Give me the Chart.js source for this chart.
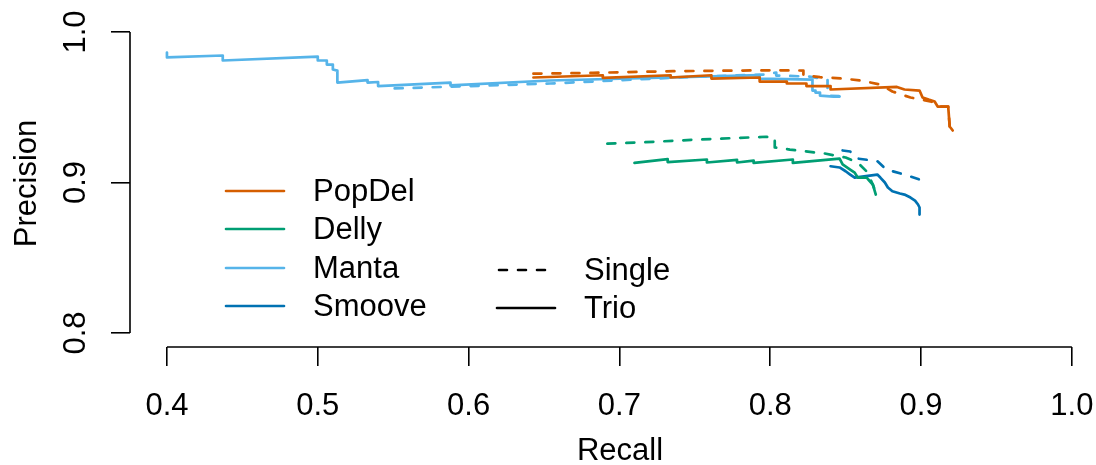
<!DOCTYPE html>
<html>
<head>
<meta charset="utf-8">
<script src="https://cdn.jsdelivr.net/npm/chart.js@4/dist/chart.umd.min.js"></script>
<style>
  body { margin: 0; background: #fff; }
  #wrap { width: 1096px; height: 465px; }
</style>
</head>
<body>
<div id="wrap"><canvas id="prCanvas"></canvas></div>
<script>
// precision / recall curves, trio vs single calling
var xTicks = [0.4, 0.5, 0.6, 0.7, 0.8, 0.9, 1.0];
var yTicks = [0.8, 0.9, 1.0];

var popdelTrioRecall = [0.643, 0.689, 0.689, 0.734, 0.734, 0.761, 0.761, 0.793, 0.793, 0.811, 0.811, 0.824, 0.824, 0.840, 0.840, 0.884, 0.889, 0.899, 0.901, 0.905, 0.909, 0.911, 0.918, 0.919, 0.921];
var popdelTrioPrec   = [0.9698, 0.9713, 0.9696, 0.9713, 0.9698, 0.9713, 0.9691, 0.9698, 0.9671, 0.9671, 0.9658, 0.9658, 0.9641, 0.9641, 0.9618, 0.9635, 0.9618, 0.9611, 0.9565, 0.9551, 0.9538, 0.9505, 0.9505, 0.9372, 0.9346];
var popdelSingleRecall = [0.643, 0.6825, 0.7355, 0.802, 0.822, 0.822, 0.833, 0.848, 0.860, 0.873, 0.881, 0.893, 0.907, 0.911, 0.918, 0.919, 0.921];
var popdelSinglePrec   = [0.9723, 0.9729, 0.974, 0.9746, 0.9744, 0.9713, 0.970, 0.9691, 0.9678, 0.9651, 0.9605, 0.9565, 0.9538, 0.9505, 0.9505, 0.9372, 0.9346];

var dellyTrioRecall = [0.710, 0.732, 0.732, 0.758, 0.758, 0.778, 0.778, 0.789, 0.789, 0.815, 0.815, 0.846, 0.848, 0.853, 0.856, 0.858, 0.864, 0.865, 0.868, 0.870];
var dellyTrioPrec   = [0.913, 0.9156, 0.9136, 0.9153, 0.9133, 0.915, 0.9133, 0.9146, 0.913, 0.9153, 0.913, 0.9159, 0.912, 0.9086, 0.9066, 0.9033, 0.9033, 0.902, 0.8987, 0.892];
var dellySingleRecall = [0.692, 0.717, 0.753, 0.797, 0.803, 0.803, 0.813, 0.836, 0.850, 0.858, 0.864, 0.868, 0.870];
var dellySinglePrec   = [0.9258, 0.9268, 0.9286, 0.9304, 0.9299, 0.9233, 0.9219, 0.9193, 0.9166, 0.9133, 0.9073, 0.8987, 0.8933];

var mantaTrioRecall = [0.400, 0.400, 0.437, 0.437, 0.500, 0.500, 0.506, 0.506, 0.510, 0.510, 0.513, 0.513, 0.533, 0.533, 0.540, 0.540, 0.588, 0.588, 0.654, 0.793, 0.793, 0.828, 0.828, 0.830, 0.830, 0.833, 0.833, 0.842, 0.846];
var mantaTrioPrec   = [0.9864, 0.9831, 0.9844, 0.9811, 0.9837, 0.9811, 0.9811, 0.9784, 0.9784, 0.9751, 0.9744, 0.9664, 0.9681, 0.9664, 0.9668, 0.9641, 0.9664, 0.9645, 0.9678, 0.9714, 0.9691, 0.9684, 0.9611, 0.9611, 0.9598, 0.9598, 0.9578, 0.9571, 0.9571];
var mantaSingleRecall = [0.551, 0.654, 0.753, 0.797, 0.804, 0.804, 0.826, 0.838, 0.838, 0.850];
var mantaSinglePrec   = [0.9625, 0.9658, 0.9704, 0.9718, 0.9731, 0.9711, 0.9704, 0.9684, 0.9578, 0.9571];

var smooveTrioRecall = [0.840, 0.846, 0.850, 0.853, 0.856, 0.871, 0.873, 0.876, 0.878, 0.881, 0.886, 0.889, 0.893, 0.896, 0.898, 0.899, 0.899];
var smooveTrioPrec   = [0.9108, 0.910, 0.9075, 0.9053, 0.9032, 0.9053, 0.9033, 0.900, 0.8967, 0.8942, 0.8927, 0.892, 0.890, 0.888, 0.8854, 0.8834, 0.8787];
var smooveSingleRecall = [0.848, 0.853, 0.858, 0.871, 0.877, 0.889, 0.899, 0.899];
var smooveSinglePrec   = [0.9213, 0.9206, 0.9159, 0.9142, 0.9086, 0.9053, 0.902, 0.8987];

var tools = ["PopDel", "Delly", "Manta", "Smoove"];
var toolColors = ["#D55E00", "#009E73", "#56B4E9", "#0072B2"];

var FONT = "'Liberation Sans', Arial, Helvetica, sans-serif";
var dash = [8, 11];

function pts(xs, ys) {
  var out = [];
  for (var i = 0; i < xs.length; i++) out.push({ x: xs[i], y: ys[i] });
  return out;
}

function curve(label, xs, ys, color, dashed, order) {
  return {
    label: label,
    data: pts(xs, ys),
    showLine: true,
    borderColor: color,
    borderWidth: 2.7,
    borderDash: dashed ? dash : [],
    borderCapStyle: "round",
    borderJoinStyle: "round",
    pointRadius: 0,
    fill: false,
    tension: 0,
    order: order
  };
}

// R style axes: line only between first and last tick, rotated y labels, two column legend
var rAxes = {
  id: "rAxes",
  afterDraw: function (chart) {
    var ctx = chart.ctx;
    var xs = chart.scales.x, ys = chart.scales.y;
    var area = chart.chartArea;
    ctx.save();
    ctx.strokeStyle = "#000";
    ctx.lineWidth = 1.6;
    ctx.beginPath();
    ctx.moveTo(xs.getPixelForValue(xTicks[0]), area.bottom);
    ctx.lineTo(xs.getPixelForValue(xTicks[xTicks.length - 1]), area.bottom);
    ctx.moveTo(area.left, ys.getPixelForValue(yTicks[0]));
    ctx.lineTo(area.left, ys.getPixelForValue(yTicks[yTicks.length - 1]));
    ctx.stroke();

    ctx.fillStyle = "#000";
    ctx.font = "31px " + FONT;
    ctx.textAlign = "center";
    ctx.textBaseline = "middle";
    for (var k = 0; k < xTicks.length; k++) {
      ctx.fillText(xTicks[k].toFixed(1), xs.getPixelForValue(xTicks[k]), 406);
    }
    ctx.fillText("Recall", 620, 451);
    for (var i = 0; i < yTicks.length; i++) {
      ctx.save();
      ctx.translate(76, ys.getPixelForValue(yTicks[i]));
      ctx.rotate(-Math.PI / 2);
      ctx.fillText(yTicks[i].toFixed(1), 0, 0);
      ctx.restore();
    }

    // legend
    var rows = [191, 229, 268, 306];
    ctx.textAlign = "left";
    ctx.lineCap = "round";
    ctx.lineWidth = 2.6;
    for (var j = 0; j < tools.length; j++) {
      ctx.strokeStyle = toolColors[j];
      ctx.beginPath();
      ctx.moveTo(226, rows[j]);
      ctx.lineTo(284, rows[j]);
      ctx.stroke();
      ctx.fillText(tools[j], 313, rows[j] + 1);
    }
    ctx.strokeStyle = "#000";
    ctx.setLineDash(dash);
    ctx.beginPath();
    ctx.moveTo(499, 270);
    ctx.lineTo(555, 270);
    ctx.stroke();
    ctx.setLineDash([]);
    ctx.beginPath();
    ctx.moveTo(497, 308);
    ctx.lineTo(555, 308);
    ctx.stroke();
    ctx.fillText("Single", 584, 271);
    ctx.fillText("Trio", 584, 309);
    ctx.restore();
  }
};

var datasets = [
  curve("PopDel Single", popdelSingleRecall, popdelSinglePrec, toolColors[0], true, 2),
  curve("PopDel Trio", popdelTrioRecall, popdelTrioPrec, toolColors[0], false, 1),
  curve("Delly Single", dellySingleRecall, dellySinglePrec, toolColors[1], true, 6),
  curve("Delly Trio", dellyTrioRecall, dellyTrioPrec, toolColors[1], false, 5),
  curve("Manta Single", mantaSingleRecall, mantaSinglePrec, toolColors[2], true, 4),
  curve("Manta Trio", mantaTrioRecall, mantaTrioPrec, toolColors[2], false, 3),
  curve("Smoove Single", smooveSingleRecall, smooveSinglePrec, toolColors[3], true, 8),
  curve("Smoove Trio", smooveTrioRecall, smooveTrioPrec, toolColors[3], false, 7)
];

new Chart(document.getElementById("prCanvas"), {
  type: "scatter",
  data: { datasets: datasets },
  plugins: [rAxes],
  options: {
    responsive: true,
    maintainAspectRatio: false,
    animation: false,
    layout: { padding: { top: 20, left: 0, right: 0, bottom: 0 } },
    plugins: { legend: { display: false }, tooltip: { enabled: false } },
    scales: {
      x: {
        type: "linear",
        min: 0.3755,
        max: 1.016,
        afterBuildTicks: function (s) { s.ticks = xTicks.map(function (v) { return { value: v }; }); },
        afterFit: function (s) { s.height = 118; },
        grid: { drawOnChartArea: false, tickLength: 19, color: "#000", lineWidth: 1.6 },
        border: { display: false },
        ticks: { display: false },
        title: { display: false }
      },
      y: {
        type: "linear",
        min: 0.7907,
        max: 1.008,
        afterBuildTicks: function (s) { s.ticks = yTicks.map(function (v) { return { value: v }; }); },
        afterFit: function (s) { s.width = 130; },
        grid: { drawOnChartArea: false, tickLength: 19, color: "#000", lineWidth: 1.6 },
        border: { display: false },
        ticks: { display: false },
        title: { display: true, text: "Precision", color: "#000", font: { family: FONT, size: 31 }, padding: { top: 9, bottom: 0 } }
      }
    }
  }
});
</script>
</body>
</html>
